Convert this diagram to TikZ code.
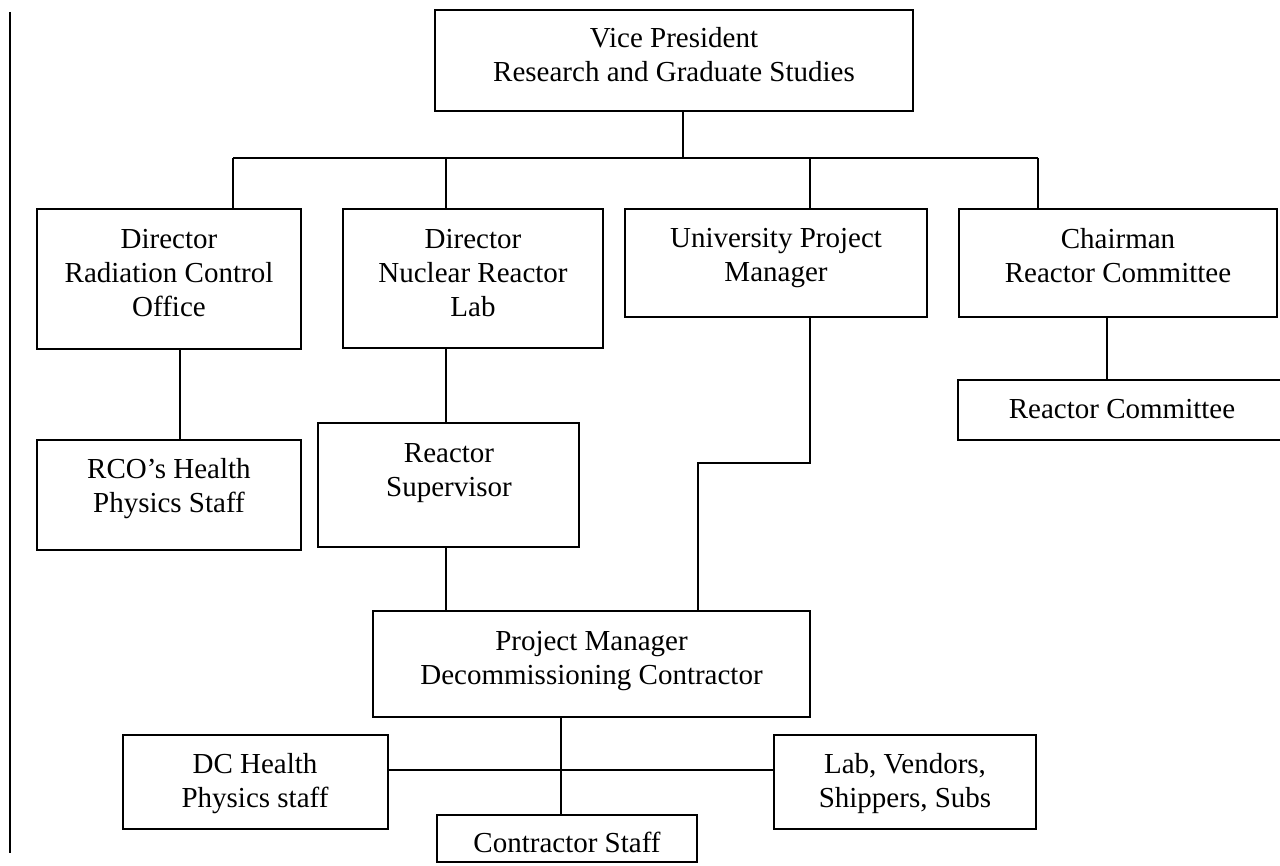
\documentclass[tikz,border=0pt]{standalone}
\usepackage{fontspec}
\setmainfont{Liberation Serif}
\newcommand{\stack}[1]{\begin{tabular}{@{}c@{}}#1\end{tabular}}
\tikzset{
  box/.style={draw, line width=2.2pt, inner sep=0pt, outer sep=0pt},
  lbl/.style={inner sep=0pt, font=\fontsize{29}{34}\selectfont},
  link/.style={line width=1.4pt},
}
\begin{document}
\begin{tikzpicture}[x=1pt, y=-1pt]
  \clip (0,0) rectangle (1280,866);
  \fill[white] (0,0) rectangle (1280,866);

  % margin rule on the left
  \coordinate (ruleT) at (10,12);
  \coordinate (ruleB) at (10,853);
  \draw[line width=1.3pt] (ruleT) -- (ruleB);

  % boxes
  \node[box, minimum width=478, minimum height=101] (vp)  at (674,60.5) {};
  \node[box, minimum width=264, minimum height=140] (drc) at (169,279) {};
  \node[box, minimum width=260, minimum height=139] (dnr) at (473,278.5) {};
  \node[box, minimum width=302, minimum height=108] (upm) at (776,263) {};
  \node[box, minimum width=318, minimum height=108] (chr) at (1118,263) {};
  \node[box, minimum width=342, minimum height=60]  (rc)  at (1129,410) {};
  \node[box, minimum width=264, minimum height=110] (rco) at (169,495) {};
  \node[box, minimum width=261, minimum height=124] (rs)  at (448.5,485) {};
  \node[box, minimum width=437, minimum height=106] (pm)  at (591.5,664) {};
  \node[box, minimum width=265, minimum height=94]  (dc)  at (255.5,782) {};
  \node[box, minimum width=262, minimum height=94]  (lab) at (905,782) {};
  \node[box, minimum width=260, minimum height=47]  (cs)  at (567,838.5) {};

  % labels
  \node[lbl] (vpT)  at (674,58)    {\stack{Vice President\\Research and Graduate Studies}};
  \node[lbl] (drcT) at (169,276)   {\stack{Director\\Radiation Control\\Office}};
  \node[lbl] (dnrT) at (473,276)   {\stack{Director\\Nuclear Reactor\\Lab}};
  \node[lbl] (upmT) at (776,258)   {\stack{University Project\\Manager}};
  \node[lbl] (chrT) at (1118,259)  {\stack{Chairman\\Reactor Committee}};
  \node[lbl] (rcT)  at (1122,412)  {\stack{Reactor Committee}};
  \node[lbl] (rcoT) at (169,489)   {\stack{RCO’s Health\\Physics Staff}};
  \node[lbl] (rsT)  at (449,473)   {\stack{Reactor\\Supervisor}};
  \node[lbl] (pmT)  at (591.5,660.5) {\stack{Project Manager\\Decommissioning Contractor}};
  \node[lbl] (dcT)  at (255,784)   {\stack{DC Health\\Physics staff}};
  \node[lbl] (labT) at (905,784)   {\stack{Lab, Vendors,\\Shippers, Subs}};
  \begin{scope}
    \clip (cs.north west) rectangle (697,853.5);
    \node[lbl] (csT) at (567,846) {\stack{Contractor Staff}};
  \end{scope}

  % branch points
  \coordinate (bus)  at (683,158);
  \coordinate (busL) at (233,158);
  \coordinate (busR) at (1038,158);
  \coordinate (d2)   at (446,158);
  \coordinate (d3)   at (810,158);
  \coordinate (k1)   at (180,0);
  \coordinate (k4)   at (1107,0);
  \coordinate (k5)   at (561,0);
  \coordinate (jog)  at (698,463);
  \coordinate (row)  at (0,770);

  % connectors
  \draw[link] (vp.south -| bus) -- (bus);
  \draw[link] (busL) -- (busR);
  \draw[link] (busL) -- (busL |- drc.north);
  \draw[link] (d2) -- (d2 |- dnr.north);
  \draw[link] (d3) -- (d3 |- upm.north);
  \draw[link] (busR) -- (busR |- chr.north);
  \draw[link] (drc.south -| k1) -- (rco.north -| k1);
  \draw[link] (dnr.south -| d2) -- (rs.north -| d2);
  \draw[link] (rs.south -| d2) -- (pm.north -| d2);
  \draw[link] (upm.south -| d3) -- (d3 |- jog) -- (jog) -- (pm.north -| jog);
  \draw[link] (chr.south -| k4) -- (rc.north -| k4);
  \draw[link] (pm.south -| k5) -- (cs.north -| k5);
  \draw[link] (dc.east |- row) -- (lab.west |- row);
\end{tikzpicture}
\end{document}
